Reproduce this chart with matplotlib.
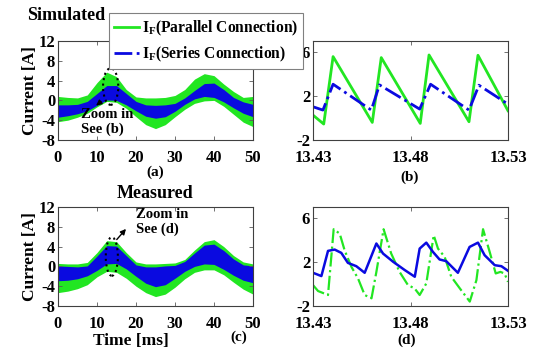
import matplotlib
matplotlib.use("Agg")
import matplotlib.pyplot as plt
from matplotlib.patches import Ellipse
from matplotlib.lines import Line2D

plt.rcParams['font.family'] = ['Liberation Serif', 'DejaVu Serif']
plt.rcParams['font.weight'] = 'bold'
plt.rcParams['mathtext.fontset'] = 'custom'
plt.rcParams['mathtext.rm'] = 'Liberation Serif:bold'
plt.rcParams['mathtext.bf'] = 'Liberation Serif:bold'
plt.rcParams['mathtext.it'] = 'Liberation Serif:bold'
plt.rcParams['axes.unicode_minus'] = False

GREEN = '#22e622'
BLUE = '#0a0ae0'

# ---------------- data: envelopes of the full-time waveforms -------------
t_ms = [0, 2.5, 5, 7.5, 10, 12.5, 15, 17.5, 20, 22.5, 25, 27.5, 30, 32.5, 35,
        37.5, 40, 42.5, 45, 47.5, 50]

sim_par_upper = [0.8, 0.6, 0.5, 1.1, 3.6, 5.7, 4.8, 2.2, 0.7, 0.5, 0.5, 0.6, 1.0,
                 2.2, 4.3, 5.4, 5.0, 3.3, 1.8, 0.6, 0.8]
sim_par_lower = [-4.3, -4.0, -3.4, -2.6, -1.3, -0.2, -0.4, -1.6, -3.3, -4.9, -5.7,
                 -4.9, -3.3, -1.8, -0.6, -0.1, 0.0, -1.2, -2.8, -4.4, -5.3]
sim_ser_upper = [-0.9, -0.9, -0.8, -0.2, 1.4, 3.0, 3.0, 1.4, -0.2, -0.9, -1.0,
                 -0.9, -0.6, 0.5, 2.0, 3.4, 3.5, 2.2, 0.6, -0.3, -0.8]
sim_ser_lower = [-3.4, -3.1, -2.7, -2.1, -1.0, 0.1, 0.0, -0.9, -2.1, -3.2, -3.6,
                 -3.3, -2.2, -0.8, 0.3, 0.8, 0.6, -0.3, -1.5, -2.6, -3.3]

mea_par_upper = [0.6, 0.5, 0.5, 0.8, 2.8, 5.2, 5.0, 2.8, 0.9, 0.5, 0.5, 0.6, 0.7,
                 1.4, 3.3, 5.0, 5.4, 4.0, 2.2, 0.9, 0.5]
mea_par_lower = [-5.3, -5.0, -4.5, -3.7, -2.1, -1.0, -1.2, -2.4, -4.0, -5.3, -6.1,
                 -5.6, -4.2, -2.5, -1.2, -0.7, -0.7, -1.7, -3.2, -4.6, -5.6]
mea_ser_upper = [0.1, 0.0, -0.1, 0.1, 2.1, 4.2, 4.1, 2.2, 0.3, -0.1, -0.1, 0.1,
                 0.2, 1.0, 2.7, 4.3, 4.5, 3.2, 1.5, 0.3, 0.1]
mea_ser_lower = [-2.9, -2.8, -2.5, -1.9, -0.8, 0.5, 0.6, -0.5, -2.0, -3.4, -4.1,
                 -3.7, -2.4, -1.0, 0.0, 0.5, 0.4, -0.6, -1.8, -2.8, -3.3]

# ---------------- data: zoomed waveforms -------------
sim_par_t = [13.43, 13.4355, 13.4403, 13.4604, 13.4650, 13.4850, 13.4895,
             13.5100, 13.5146, 13.53]
sim_par_i = [0.26, -0.55, 5.58, -0.40, 5.49, -0.49, 5.73, -0.34, 5.70, 0.66]

sim_ser_t = [13.43, 13.4351, 13.4403, 13.4599, 13.4641, 13.4847, 13.4903,
             13.5100, 13.5151, 13.53]
sim_ser_i = [1.02, 0.72, 3.07, 0.72, 3.01, 0.81, 3.07, 0.72, 2.98, 1.26]

mea_par_t = [13.43, 13.4326, 13.4377, 13.4406, 13.4437, 13.4462, 13.4497,
             13.4531, 13.4565, 13.4600, 13.4625, 13.4662, 13.4701, 13.4744,
             13.4787, 13.4821, 13.4847, 13.4881, 13.4919, 13.4941, 13.4975,
             13.5009, 13.5053, 13.5104, 13.5138, 13.5172, 13.5206, 13.5237,
             13.5261, 13.5282, 13.53]
mea_par_i = [-0.1, -0.64, -1.0, 4.98, 4.58, 3.07, 1.56, 0.5, -1.0, -1.3, 1.1,
             4.98, 2.77, 1.1, -0.1, -0.4, -1.0, 0.05, 4.43, 3.22, 2.47, 0.66,
             -0.4, -1.6, 0.35, 4.98, 2.92, 0.96, 1.1, 0.96, 0.2]

mea_ser_t = [13.43, 13.4343, 13.4377, 13.4411, 13.4445, 13.4479, 13.4522,
             13.4565, 13.4625, 13.4659, 13.4711, 13.4771, 13.4822, 13.4847,
             13.4881, 13.4915, 13.4949, 13.4983, 13.5043, 13.5103, 13.5146,
             13.5180, 13.5232, 13.5266, 13.53]
mea_ser_i = [1.02, 0.72, 3.01, 3.13, 2.83, 1.92, 1.62, 1.02, 3.68, 2.77, 2.02,
             1.26, 0.66, 3.22, 3.76, 2.92, 2.23, 2.08, 1.02, 3.37, 3.76, 2.62,
             1.71, 1.62, 1.20]

left_xticks = [0, 10, 20, 30, 40, 50]
left_xticklabels = ['0', '10', '20', '30', '40', '50']
left_yticks = [-8, -4, 0, 4, 8, 12]
left_yticklabels = ['-8', '-4', '0', '4', '8', '12']
right_xticks = [13.43, 13.48, 13.53]
right_xticklabels = ['13.43', '13.48', '13.53']
right_yticks = [-2, 2, 6]
right_yticklabels = ['-2', '2', '6']

# ---------------- figure -------------
fig = plt.figure(figsize=(5.43, 3.51), dpi=100)
W, H = 543, 351
TICKFONT = dict(family='Liberation Serif', weight='bold', size=12)

def ax_at(x0, x1, ytop, ybot):
    return fig.add_axes([x0 / W, 1 - ybot / H, (x1 - x0) / W, (ybot - ytop) / H])

ax_a = ax_at(58, 253, 41, 140)
ax_b = ax_at(313, 508, 41, 140)
ax_c = ax_at(58, 253, 207, 306)
ax_d = ax_at(313, 508, 207, 306)

def style(ax):
    for s in ax.spines.values():
        s.set_color('0.25')
        s.set_linewidth(0.8)
    ax.tick_params(direction='in', length=3, width=0.6, color='0.35',
                   top=True, right=True)
    ax.tick_params(axis='x', pad=7)
    ax.tick_params(axis='y', pad=2)

for ax, gu, gl, bu, bl in [(ax_a, sim_par_upper, sim_par_lower, sim_ser_upper, sim_ser_lower),
                           (ax_c, mea_par_upper, mea_par_lower, mea_ser_upper, mea_ser_lower)]:
    ax.fill_between(t_ms, gl, gu, color=GREEN, lw=0)
    ax.fill_between(t_ms, bl, bu, color=BLUE, lw=0)
    ax.set_xlim(0, 50)
    ax.set_ylim(-8, 12)
    ax.set_xticks(left_xticks)
    ax.set_xticklabels(left_xticklabels, fontdict=TICKFONT)
    ax.set_yticks(left_yticks)
    ax.set_yticklabels(left_yticklabels, fontdict=TICKFONT)
    ax.set_ylabel('Current [A]', fontsize=12.5, fontweight='bold', labelpad=0)
    style(ax)

ax_b.plot(sim_par_t, sim_par_i, color=GREEN, lw=2)
ax_b.plot(sim_ser_t, sim_ser_i, color=BLUE, lw=2, ls='-.')
ax_d.plot(mea_par_t, mea_par_i, color=GREEN, lw=1.6, ls='-.')
ax_d.plot(mea_ser_t, mea_ser_i, color=BLUE, lw=1.8)
for ax in (ax_b, ax_d):
    ax.set_xlim(13.43, 13.53)
    ax.set_ylim(-2, 7)
    ax.set_xticks(right_xticks)
    ax.set_xticklabels(right_xticklabels, fontdict=TICKFONT)
    ax.set_yticks(right_yticks)
    ax.set_yticklabels(right_yticklabels, fontdict=TICKFONT)
    style(ax)

# annotations (a)
ax_a.add_patch(Ellipse((13.5, 2.8), 3.9, 7.4, fill=False, ls=':', lw=1.5, ec='black'))
ax_a.annotate('', xy=(9.2, -1.4), xytext=(11.6, 0.1),
              arrowprops=dict(arrowstyle='-|>', color='black', lw=1, mutation_scale=8))
ax_a.text(6.0, -1.5, 'Zoom in\nSee (b)', fontsize=10.5, fontweight='bold', va='top',
          ha='left', linespacing=1.15)

# annotations (c)
ax_c.add_patch(Ellipse((13.8, 2.0), 3.1, 7.8, fill=False, ls=':', lw=1.5, ec='black'))
ax_c.annotate('', xy=(17.9, 8.0), xytext=(14.6, 5.0),
              arrowprops=dict(arrowstyle='-|>', color='black', lw=1, mutation_scale=8))
ax_c.text(20.1, 11.8, 'Zoom in\nSee (d)', fontsize=10.5, fontweight='bold', va='top',
          ha='left', linespacing=1.15)

# titles and labels
fig.text(66 / W, 1 - 15 / H, 'Simulated', fontsize=13, fontweight='bold', ha='center', va='center')
fig.text(155 / W, 1 - 194 / H, 'Measured', fontsize=13, fontweight='bold', ha='center', va='center')
fig.text(131 / W, 1 - 341 / H, 'Time [ms]', fontsize=12.5, fontweight='bold', ha='center', va='center')
fig.text(155 / W, 1 - 172 / H, '(a)', fontsize=11, fontweight='bold', ha='center', va='center')
fig.text(410 / W, 1 - 177 / H, '(b)', fontsize=11, fontweight='bold', ha='center', va='center')
fig.text(239 / W, 1 - 337 / H, '(c)', fontsize=11, fontweight='bold', ha='center', va='center')
fig.text(407 / W, 1 - 340 / H, '(d)', fontsize=11, fontweight='bold', ha='center', va='center')

handles = [Line2D([0], [0], color=GREEN, lw=2),
           Line2D([0], [0], color=BLUE, lw=2, ls='-.')]
labels = [r'I$_\mathbf{F}$(Parallel Connection)', r'I$_\mathbf{F}$(Series Connection)']
leg = fig.legend(handles, labels, loc='upper left', bbox_to_anchor=(109 / W, 1 - 13 / H),
                 fancybox=False, framealpha=1, edgecolor='0.5',
                 prop={'family': 'Liberation Serif', 'weight': 'bold', 'size': 11.2},
                 handlelength=1.6, handletextpad=0.15, borderpad=0.35, labelspacing=0.45,
                 borderaxespad=0, handleheight=0.7)
leg.get_frame().set_linewidth(0.8)

fig.savefig('out.png', dpi=100)
